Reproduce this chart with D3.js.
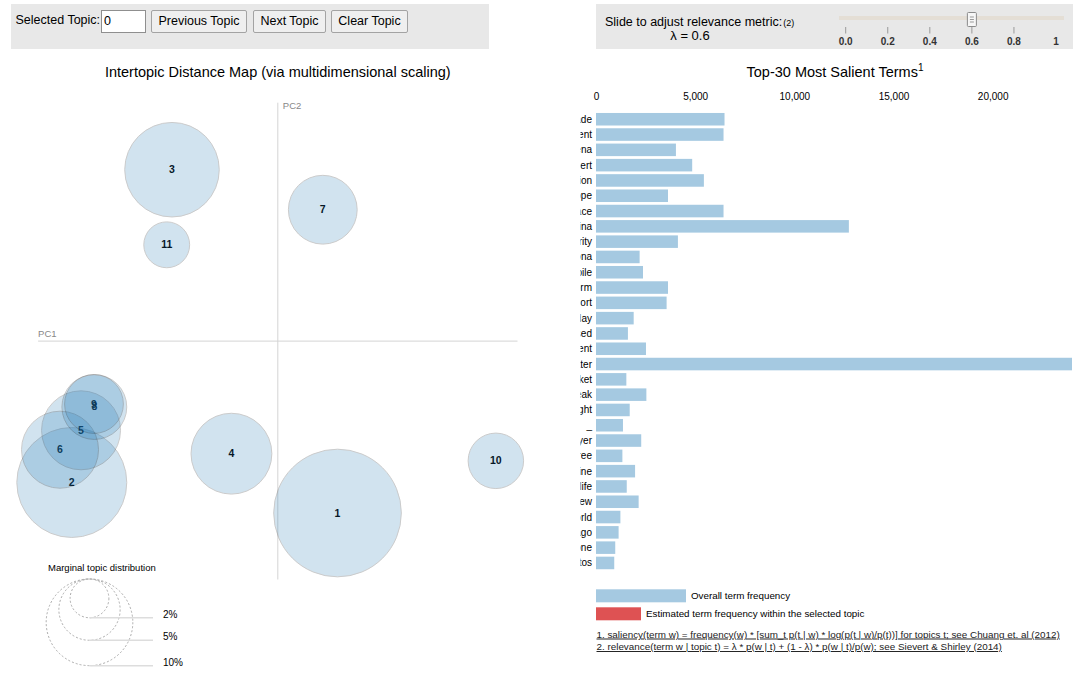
<!DOCTYPE html>
<html>
<head>
<meta charset="utf-8">
<script src="https://cdn.jsdelivr.net/npm/d3@7"></script>
<style>
body { margin: 0; background: #fff; font-family: Arial, "Liberation Sans", sans-serif; }
#wrap { position: relative; width: 1085px; height: 687px; overflow: hidden; }
#chart { position: absolute; left: 0; top: 0; }
.ctl { position: absolute; top: 9.5px; height: 23px; box-sizing: border-box; font-family: Arial, "Liberation Sans", sans-serif; font-size: 12.5px; color: #000; }
button.ctl { background: #efefef; border: 1px solid #a3a3a3; border-radius: 2px; padding: 0; }
input.ctl { border: 1px solid #8f8f8f; padding: 1px 2px; background: #fff; }
#topicLabel { position: absolute; left: 15.5px; top: 13px; font-size: 12.5px; }
</style>
</head>
<body>
<div id="wrap">
  <svg id="chart" width="1085" height="687"></svg>
  <span id="topicLabel">Selected Topic:</span>
  <input class="ctl" type="text" value="0" style="left:101px; width:45px;">
  <button class="ctl" style="left:151px; width:96px;">Previous Topic</button>
  <button class="ctl" style="left:253px; width:73px;">Next Topic</button>
  <button class="ctl" style="left:331px; width:77px;">Clear Topic</button>
</div>
<script>
// topic map (MDS coordinates, share of tokens in %)
const topics   = [1, 2, 3, 4, 5, 6, 7, 8, 9, 10, 11];
const topicPC1 = [0.0872, -0.3008, -0.1545, -0.0677, -0.2873, -0.3180, 0.0657, -0.2679, -0.2684, 0.3184, -0.1622];
const topicPC2 = [-0.2596, -0.2135, 0.2588, -0.1700, -0.1347, -0.1640, 0.1984, -0.0995, -0.0950, -0.1808, 0.1454];
const topicPct = [21.7, 16.1, 11.9, 8.7, 8.3, 7.9, 6.3, 5.6, 4.6, 4.1, 2.8];
const legendPct = [2, 5, 10];

// top-30 terms, overall frequency
const terms = ["trade", "government", "arena", "expert", "election", "europe", "space", "china",
  "security", "corona", "mobile", "storm", "report", "today", "used", "president", "twitter",
  "market", "break", "night", "_", "player", "free", "online", "life", "new", "world", "ago",
  "done", "photos"];
const termFreq = [6480, 6430, 4030, 4850, 5440, 3630, 6430, 12750, 4130, 2200, 2370, 3630, 3560,
  1900, 1610, 2520, 24000, 1530, 2540, 1700, 1360, 2280, 1330, 1970, 1550, 2150, 1230, 1140,
  970, 920];
const freqTicks = [0, 5000, 10000, 15000, 20000];

// relevance slider
const lambdaTicks = [0, 0.2, 0.4, 0.6, 0.8, 1];
const lambda = 0.6;

const color1 = "#1f77b4", color2 = "#d62728";
const svg = d3.select("#chart");
const font = "Arial, 'Liberation Sans', sans-serif";

// control panels
svg.append("rect").attr("x", 11).attr("y", 4).attr("width", 478).attr("height", 45).attr("fill", "#e8e8e8");
svg.append("rect").attr("x", 596).attr("y", 4).attr("width", 477).attr("height", 45).attr("fill", "#e8e8e8");

svg.append("text").attr("x", 605).attr("y", 26).style("font", `12.5px ${font}`)
  .text("Slide to adjust relevance metric:")
  .append("tspan").style("font-size", "9px").attr("dx", 1).text("(2)");
svg.append("text").attr("x", 690).attr("y", 40).attr("text-anchor", "middle")
  .style("font", `13px ${font}`).text(`λ = ${lambda}`);

const xs = d3.scaleLinear().domain([0, 1]).range([845.7, 1056]);
svg.append("rect").attr("x", 839).attr("y", 16).attr("width", 225).attr("height", 4).attr("fill", "#e4ded5");
svg.selectAll(".ltick").data(lambdaTicks.filter(d => d < 1)).join("line")
  .attr("x1", d => xs(d)).attr("x2", d => xs(d)).attr("y1", 27).attr("y2", 33.5)
  .attr("stroke", "#999");
svg.selectAll(".llab").data(lambdaTicks).join("text")
  .attr("x", d => xs(d)).attr("y", 45).attr("text-anchor", "middle")
  .style("font", `bold 10px ${font}`).attr("fill", "#333")
  .text(d => d === 1 ? "1" : d.toFixed(1));
const thumb = svg.append("g").attr("transform", `translate(${xs(lambda)},0)`);
thumb.append("rect").attr("x", -4.5).attr("y", 12.5).attr("width", 9).attr("height", 14)
  .attr("fill", "#f6f6f6").attr("stroke", "#8a8a8a").attr("rx", 1);
[17, 19.5, 22].forEach(yy => thumb.append("line").attr("x1", -2).attr("x2", 2)
  .attr("y1", yy).attr("y2", yy).attr("stroke", "#999"));

// ---- intertopic distance map
svg.append("text").attr("x", 277.8).attr("y", 76.5).attr("text-anchor", "middle")
  .style("font", `14.5px ${font}`).text("Intertopic Distance Map (via multidimensional scaling)");

const x = d3.scaleLinear().domain([-0.35, 0.35]).range([38.1, 517.5]);
const y = d3.scaleLinear().domain([-0.36, 0.36]).range([579.5, 102.7]);
const r = d3.scaleSqrt().domain([0, 100]).range([0, 137]);

svg.append("line").attr("x1", x(-0.35)).attr("x2", x(0.35)).attr("y1", y(0)).attr("y2", y(0))
  .attr("stroke", "#d4d4d4");
svg.append("line").attr("x1", x(0)).attr("x2", x(0)).attr("y1", y(0.36)).attr("y2", y(-0.36))
  .attr("stroke", "#d4d4d4");
svg.append("text").attr("x", x(-0.35)).attr("y", y(0) - 4).style("font", `9.5px ${font}`)
  .attr("fill", "#888").text("PC1");
svg.append("text").attr("x", x(0) + 5).attr("y", y(0.36) + 6).style("font", `9.5px ${font}`)
  .attr("fill", "#888").text("PC2");

const mds = topics.map((t, i) => ({ topic: t, px: topicPC1[i], py: topicPC2[i], pct: topicPct[i] }));
const points = svg.selectAll(".points").data(mds).enter();
points.append("text")
  .attr("x", d => x(d.px)).attr("y", d => y(d.py) + 3.5).attr("text-anchor", "middle")
  .style("font", `bold 10.5px ${font}`).attr("fill", "#000").text(d => d.topic);
points.append("circle")
  .attr("cx", d => x(d.px)).attr("cy", d => y(d.py)).attr("r", d => r(d.pct))
  .style("opacity", 0.2).attr("fill", color1).attr("stroke", "black");

// marginal topic distribution legend
const lcx = 89.5, ltop = 579;
svg.append("text").attr("x", 48).attr("y", 571).style("font", `9.5px ${font}`)
  .text("Marginal topic distribution");
svg.selectAll(".lcirc").data(legendPct).join("circle")
  .attr("cx", lcx).attr("cy", d => ltop + r(d)).attr("r", d => r(d))
  .attr("fill", "none").attr("stroke", "#aaa").attr("stroke-dasharray", "2 2");
svg.selectAll(".lline").data(legendPct).join("line")
  .attr("x1", lcx).attr("x2", 153).attr("y1", d => ltop + 2 * r(d)).attr("y2", d => ltop + 2 * r(d))
  .attr("stroke", "#ddd").attr("stroke-width", 1.5);
svg.selectAll(".ltxt").data(legendPct).join("text")
  .attr("x", 163).attr("y", d => ltop + 2 * r(d)).style("font", `10px ${font}`)
  .text(d => d + "%");

// ---- bar chart
const title = svg.append("text").attr("x", 835).attr("y", 76.5).attr("text-anchor", "middle")
  .style("font", `14.5px ${font}`).text("Top-30 Most Salient Terms");
title.append("tspan").attr("dy", -6).style("font-size", "10px").text("1");

const xb = d3.scaleLinear().domain([0, 24000]).range([596, 1072]);
const yb = d3.scaleBand().domain(terms).range([111.6, 570.6]).paddingInner(0.18).paddingOuter(0.09);

svg.append("g").attr("transform", "translate(0,103)")
  .call(d3.axisTop(xb).tickValues(freqTicks).tickSize(0).tickFormat(d3.format(",")))
  .call(g => g.select(".domain").remove())
  .call(g => g.selectAll("text").style("font", `10px ${font}`).attr("fill", "#000"));

svg.selectAll(".bar").data(terms).join("rect")
  .attr("x", xb(0)).attr("y", d => yb(d)).attr("height", yb.bandwidth())
  .attr("width", (d, i) => xb(termFreq[i]) - xb(0))
  .attr("fill", color1).attr("opacity", 0.4);

// term labels are cut by the panel edge, as in the original widget
svg.append("clipPath").attr("id", "termclip").append("rect")
  .attr("x", 580.5).attr("y", 100).attr("width", 30).attr("height", 480);
svg.append("g").attr("clip-path", "url(#termclip)")
  .selectAll("text").data(terms).join("text")
  .attr("x", 592).attr("y", d => yb(d) + yb.bandwidth() / 2 + 3.5).attr("text-anchor", "end")
  .style("font", `10px ${font}`).text(d => d);

// bar legend
svg.append("rect").attr("x", 596).attr("y", 589.3).attr("width", 90).attr("height", 13)
  .attr("fill", color1).attr("opacity", 0.4);
svg.append("text").attr("x", 691).attr("y", 598.5).style("font", `9.8px ${font}`)
  .text("Overall term frequency");
svg.append("rect").attr("x", 596).attr("y", 607.3).attr("width", 45).attr("height", 13)
  .attr("fill", color2).attr("opacity", 0.8);
svg.append("text").attr("x", 646).attr("y", 616.5).style("font", `9.8px ${font}`)
  .text("Estimated term frequency within the selected topic");

svg.append("text").attr("x", 596.5).attr("y", 637.5).style("font", `9.85px ${font}`)
  .style("text-decoration", "underline").attr("fill", "#222")
  .text("1. saliency(term w) = frequency(w) * [sum_t p(t | w) * log(p(t | w)/p(t))] for topics t; see Chuang et. al (2012)");
svg.append("text").attr("x", 596.5).attr("y", 650).style("font", `9.85px ${font}`)
  .style("text-decoration", "underline").attr("fill", "#222")
  .text("2. relevance(term w | topic t) = λ * p(w | t) + (1 - λ) * p(w | t)/p(w); see Sievert & Shirley (2014)");
</script>
</body>
</html>
